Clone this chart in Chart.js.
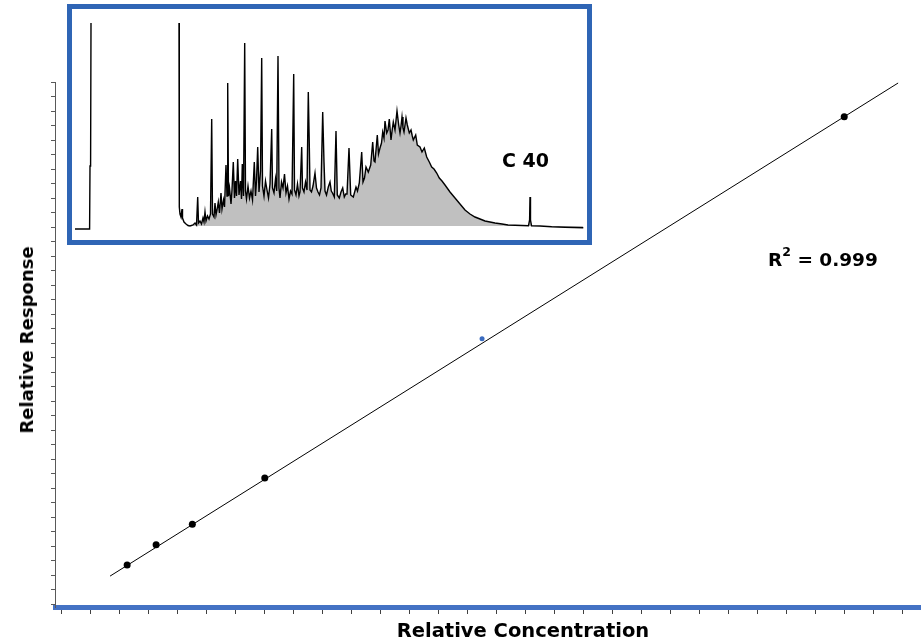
<!DOCTYPE html>
<html>
<head>
<meta charset="utf-8">
<script src="https://cdn.jsdelivr.net/npm/chart.js@4.4.1/dist/chart.umd.min.js"></script>
<style>
  body { margin: 0; background: #fff; }
  #wrap { position: relative; width: 921px; height: 644px; overflow: hidden; font-family: 'DejaVu Sans', sans-serif; font-weight: bold; color: #000; }
  #mainChart { position: absolute; left: 0; top: 0; }
  #inset { position: absolute; left: 67px; top: 4px; width: 525px; height: 241px; box-sizing: border-box; border: 5px solid #2F65B5; background: #fff; }
  #inset canvas { display: block; }
  .lbl { position: absolute; white-space: nowrap; line-height: 1; }
  #xTitle { left: 523px; top: 621px; font-size: 19.5px; transform: translateX(-50%); }
  #yTitle { left: 27px; top: 340px; font-size: 18px; transform: translate(-50%, -50%) rotate(-90deg); }
  #r2 { left: 768px; top: 251px; font-size: 18.5px; }
  #r2 .sup { font-size: 12.5px; position: relative; top: -10px; }
  #c40 { left: 502px; top: 151px; font-size: 19px; }
</style>
</head>
<body>
<div id="wrap">
  <canvas id="mainChart" width="921" height="644"></canvas>
  <div id="inset"><canvas id="insetChart" width="515" height="231"></canvas></div>
  <div class="lbl" id="c40">C 40</div>
  <div class="lbl" id="r2">R<span class="sup">2</span> = 0.999</div>
  <div class="lbl" id="xTitle">Relative Concentration</div>
  <div class="lbl" id="yTitle">Relative Response</div>
</div>
<script>
// calibration points
const conc = [2.25, 3.25, 4.5, 7.0, 14.5, 27.0];
const response = [2.7, 4.1, 5.5, 8.7, 18.3, 33.6];
// linear fit drawn across the range
const fitConc = [1.66, 28.86];
const fitResponse = [1.93, 35.93];
// minor tick positions (no labels shown)
const xTicks = [0,1,2,3,4,5,6,7,8,9,10,11,12,13,14,15,16,17,18,19,20,21,22,23,24,25,26,27,28,29];
const yTicks = [0,1,2,3,4,5,6,7,8,9,10,11,12,13,14,15,16,17,18,19,20,21,22,23,24,25,26,27,28,29,30,31,32,33,34,35,36];

// chromatogram (inset): retention time in min, detector signal
const solventTime = [0, 1.46, 1.5, 1.56, 1.6];
const solventSignal = [-3, -3, 60, 62, 203];
const decayTime = [10.4, 10.43, 10.5, 10.6, 10.7, 10.75, 10.9, 11.1, 11.3, 11.5];
const decaySignal = [203, 19, 12, 9, 17, 8, 4, 2, 0.5, 0];
const humpTime = [
  11.5, 11.8, 12.0, 12.15, 12.27, 12.35, 12.5, 12.65, 12.8, 12.9,
  13.0, 13.1, 13.25, 13.4, 13.55, 13.67, 13.75, 13.9, 14.0, 14.1,
  14.2, 14.33, 14.45, 14.6, 14.7, 14.85, 14.95, 15.1, 15.2, 15.27,
  15.35, 15.45, 15.6, 15.7, 15.83, 15.95, 16.05, 16.15, 16.27, 16.4,
  16.55, 16.65, 16.73, 16.85, 16.97, 17.05, 17.15, 17.3, 17.45, 17.6,
  17.75, 17.93, 18.05, 18.15, 18.27, 18.4, 18.55, 18.67, 18.75, 18.9,
  19.05, 19.2, 19.35, 19.5, 19.67, 19.75, 19.9, 20.05, 20.17, 20.3,
  20.4, 20.5, 20.65, 20.8, 20.95, 21.1, 21.25, 21.4, 21.55, 21.7,
  21.87, 21.95, 22.1, 22.25, 22.4, 22.5, 22.67, 22.75, 22.9, 23.05,
  23.2, 23.33, 23.43, 23.5, 23.65, 23.8, 24.0, 24.15, 24.3, 24.45,
  24.6, 24.77, 24.9, 25.0, 25.15, 25.33, 25.5, 25.63, 25.75, 25.93,
  26.1, 26.23, 26.43, 26.6, 26.77, 26.93, 27.07, 27.2, 27.4, 27.57,
  27.83, 28.1, 28.25, 28.43, 28.67, 28.8, 28.95, 29.1, 29.33, 29.57,
  29.77, 29.9, 30.0, 30.23, 30.35, 30.5, 30.65, 30.77, 30.9, 31.0,
  31.17, 31.3, 31.43, 31.6, 31.73, 31.83, 32.0, 32.2, 32.37, 32.5,
  32.6, 32.7, 32.8, 32.9, 33.1, 33.23, 33.43, 33.6, 33.73, 33.83,
  34.07, 34.23, 34.5, 34.7, 34.93, 35.17, 35.43, 35.67, 35.9, 36.17,
  36.43, 36.7, 37.0, 37.5, 38.0, 38.5, 39.0, 39.5, 40.0, 40.5,
  41.0, 41.5, 42.0, 42.7, 43.3, 44.0, 44.7, 45.35, 45.46, 45.5,
  45.55, 45.65, 46.5, 47.67, 49.0, 50.83
];
const humpSignal = [
  0, 1, 3, 1, 29, 3, 5, 2, 8, 4,
  14, 5, 10, 7, 12, 107, 12, 9, 23, 11,
  16, 24, 13, 33, 17, 26, 19, 61, 30, 143,
  30, 38, 22, 36, 64, 28, 45, 30, 67, 31,
  45, 27, 62, 30, 183, 35, 27, 40, 28, 35,
  26, 64, 30, 45, 79, 34, 55, 168, 40, 30,
  45, 36, 28, 42, 97, 38, 33, 47, 35, 170,
  38, 28, 44, 38, 52, 33, 40, 27, 35, 32,
  152, 36, 31, 42, 30, 34, 79, 38, 34, 44,
  36, 134, 81, 36, 34, 40, 53, 38, 34, 31,
  38, 114, 64, 35, 31, 39, 44, 35, 33, 29,
  95, 31, 28, 34, 38, 29, 32, 32, 78, 31,
  29, 39, 35, 43, 74, 44, 48, 59, 54, 61,
  84, 65, 64, 91, 72, 78, 83, 94, 88, 105,
  93, 96, 107, 86, 97, 104, 96, 115, 101, 93,
  100, 109, 98, 94, 108, 101, 93, 96, 90, 86,
  91, 81, 79, 74, 78, 69, 64, 59, 57, 53,
  48, 45, 41, 34, 28, 22, 16, 12, 9, 7,
  5, 4, 3, 2, 1, 0.7, 0.5, 0.3, 6, 29,
  6, 0.3, 0, -0.7, -1.2, -1.7
];

const toXY = (xs, ys) => xs.map((x, i) => ({ x: x, y: ys[i] }));

// main calibration plot
const mainChart = new Chart(document.getElementById('mainChart'), {
  type: 'scatter',
  data: {
    datasets: [{
      label: 'Standards',
      data: toXY(conc, response),
      pointRadius: ctx => ctx.dataIndex === 4 ? 2.5 : 3.5,
      pointBackgroundColor: ctx => ctx.dataIndex === 4 ? '#3B6CC0' : '#000',
      pointBorderColor: ctx => ctx.dataIndex === 4 ? '#3B6CC0' : '#000',
      pointBorderWidth: 0
    }, {
      label: 'Fit',
      data: toXY(fitConc, fitResponse),
      showLine: true,
      borderColor: '#000',
      borderWidth: 1,
      pointRadius: 0
    }]
  },
  options: {
    responsive: false,
    animation: false,
    layout: { autoPadding: false, padding: { top: 82, right: 0, bottom: 0, left: 0 } },
    plugins: { legend: { display: false }, tooltip: { enabled: false } },
    scales: {
      x: {
        type: 'linear',
        min: -0.24,
        max: 29.65,
        afterBuildTicks: s => { s.ticks = xTicks.map(v => ({ value: v })); },
        afterFit: s => { s.height = 37; },
        ticks: { display: false },
        grid: { drawOnChartArea: false, tickLength: 7, color: '#404040', lineWidth: 1 },
        border: { color: '#4472C4', width: 5 }
      },
      y: {
        type: 'linear',
        min: -0.2,
        max: 36,
        afterBuildTicks: s => { s.ticks = yTicks.map(v => ({ value: v })); },
        afterFit: s => { s.width = 55; },
        ticks: { display: false },
        grid: { drawOnChartArea: false, tickLength: 4, color: '#595959', lineWidth: 1 },
        border: { color: '#595959', width: 1 }
      }
    }
  }
});

// inset chromatogram
const insetChart = new Chart(document.getElementById('insetChart'), {
  type: 'line',
  data: {
    datasets: [{
      label: 'solvent',
      data: toXY(solventTime, solventSignal),
      borderColor: '#000',
      borderWidth: 1.4,
      fill: false
    }, {
      label: 'decay',
      data: toXY(decayTime, decaySignal),
      borderColor: '#000',
      borderWidth: 1.4,
      fill: false
    }, {
      label: 'sample',
      data: toXY(humpTime, humpSignal),
      borderColor: '#000',
      borderWidth: 1.4,
      backgroundColor: '#C0C0C0',
      fill: 'origin'
    }]
  },
  options: {
    responsive: false,
    animation: false,
    elements: { point: { radius: 0 }, line: { tension: 0 } },
    layout: { autoPadding: false, padding: 0 },
    plugins: { legend: { display: false }, tooltip: { enabled: false } },
    scales: {
      x: { type: 'linear', display: false, min: -0.3, max: 51.2 },
      y: { type: 'linear', display: false, min: -14, max: 217 }
    }
  }
});
</script>
</body>
</html>
